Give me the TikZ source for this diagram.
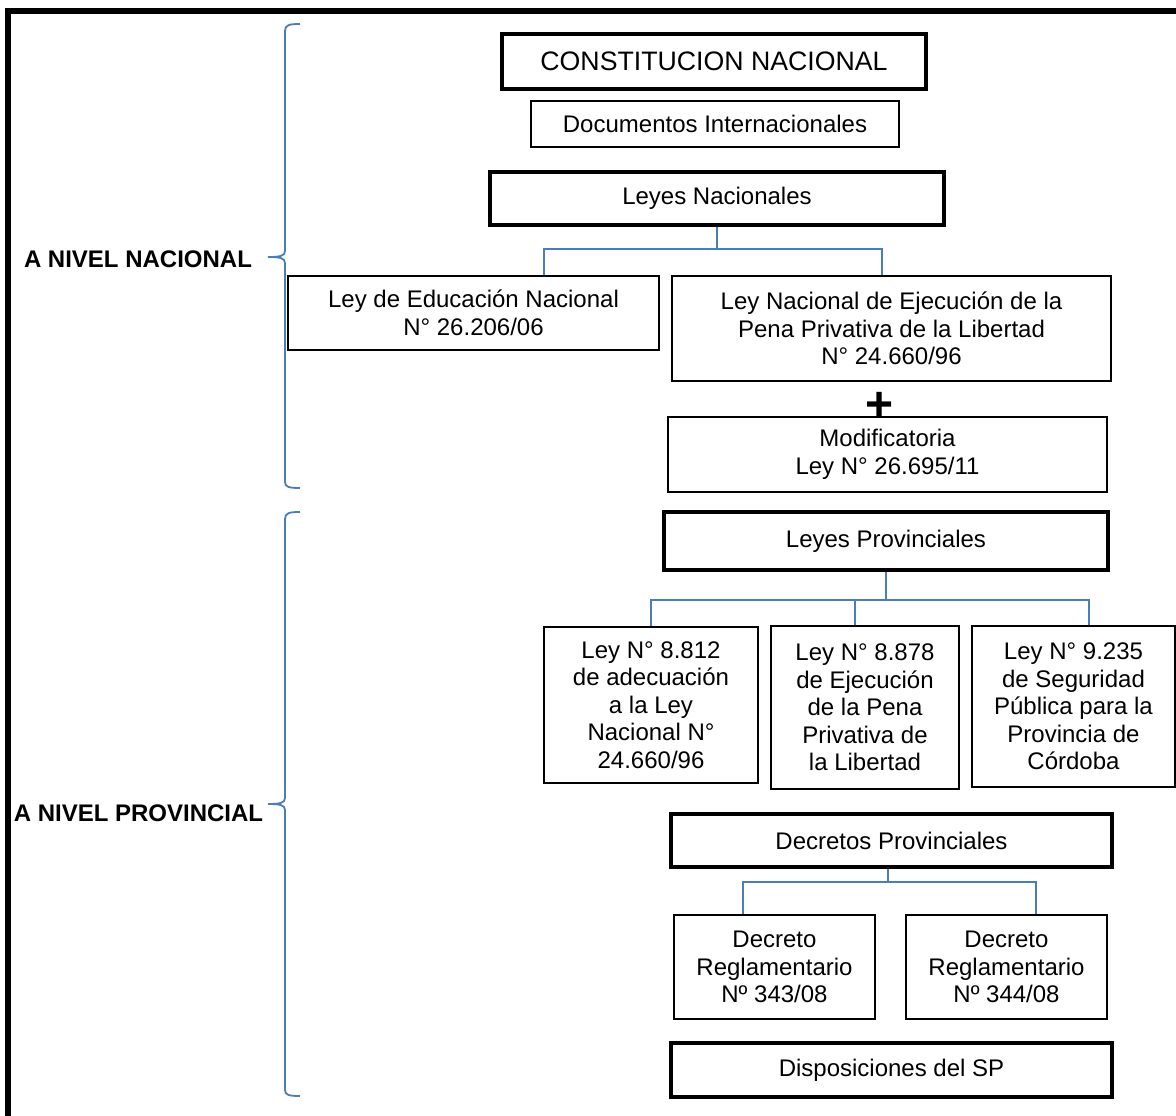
\documentclass[tikz,border=0pt]{standalone}
\usepackage{fontspec}
\setmainfont{Liberation Sans}
\definecolor{linkblue}{RGB}{74,126,187}

\begin{document}
\begin{tikzpicture}[x=1pt,y=-1pt,
 every node/.style={align=center,font=\fontsize{24}{27.5}\selectfont,inner sep=0pt},
 thinbox/.style={draw,line width=1.3pt},
 thickbox/.style={draw,line width=4.5pt},
 link/.style={draw=linkblue,line width=1.8pt},
 curly/.style={draw=linkblue,line width=1.8pt},
 level/.style={font=\fontsize{24}{27.5}\selectfont\bfseries}]
\clip (0,0) rectangle (1176,1116);
\draw[line width=6pt] (8,1140) |- (1190,11);
% nivel nacional
\node[thickbox,minimum width=424,minimum height=55,font=\fontsize{26.7}{30}\selectfont] (constitucion) at (714,61.5) {CONSTITUCION NACIONAL};
\node[thinbox,minimum width=368,minimum height=46] (documentos) at (715,124) {Documentos Internacionales};
\node[thickbox,minimum width=454,minimum height=53] (leyesnac) at (717,198.5) {Leyes Nacionales};
\node[thinbox,minimum width=371,minimum height=74] (educacion) at (473.5,313) {Ley de Educación Nacional\\N° 26.206/06};
\node[thinbox,minimum width=439,minimum height=105] (ejecucion) at (891.5,328.5) {Ley Nacional de Ejecución de la\\Pena Privativa de la Libertad\\N° 24.660/96};
\node[font=\fontsize{48}{48}\selectfont\bfseries] (mas) at (880,406) {+};
\node[thinbox,minimum width=439,minimum height=75] (modif) at (887.5,454.5) {Modificatoria\\Ley N° 26.695/11};
% nivel provincial
\node[thickbox,minimum width=444,minimum height=58] (leyesprov) at (886,541) {Leyes Provinciales};
\node[thinbox,minimum width=214,minimum height=156] (ley8812) at (651,705) {Ley N° 8.812\\de adecuación\\a la Ley\\Nacional N°\\24.660/96};
\node[thinbox,minimum width=188,minimum height=163] (ley8878) at (865,707.5) {Ley N° 8.878\\de Ejecución\\de la Pena\\Privativa de\\la Libertad};
\node[thinbox,minimum width=203,minimum height=161] (ley9235) at (1073.5,706.5) {Ley N° 9.235\\de Seguridad\\Pública para la\\Provincia de\\Córdoba};
\node[thickbox,minimum width=441,minimum height=53] (decretos) at (891.5,840.5) {Decretos Provinciales};
\node[thinbox,minimum width=201,minimum height=104] (dec343) at (774.5,967) {Decreto\\Reglamentario\\Nº 343/08};
\node[thinbox,minimum width=201,minimum height=104] (dec344) at (1006.5,967) {Decreto\\Reglamentario\\Nº 344/08};
\node[thickbox,minimum width=441,minimum height=54] (disposiciones) at (891.5,1070) {Disposiciones del SP};
% llaves y niveles
\node[level] (nacional) at (138,259) {A NIVEL NACIONAL};
\node[level] (provincial) at (138.5,813) {A NIVEL PROVINCIAL};
\draw[curly] (300,24) .. controls (289,24) and (285,25) .. (285,31) -- (285,251)
 .. controls (285,256) and (280,257) .. (268,257) .. controls (280,257) and (285,258) .. (285,263)
 -- (285,482) .. controls (285,487) and (289,488) .. (300,488);
\draw[curly] (300,512) .. controls (289,512) and (285,513) .. (285,519) -- (285,798)
 .. controls (285,803) and (280,804) .. (268,804) .. controls (280,804) and (285,805) .. (285,810)
 -- (285,1090) .. controls (285,1095) and (289,1096) .. (300,1096);
% conectores
\draw[link] (leyesnac.south) -- ++(0,22) -| ([xshift=70.5pt]educacion.north);
\draw[link] (leyesnac.south) -- ++(0,22) -| ([xshift=-9.5pt]ejecucion.north);
\draw[link] (leyesprov.south) -- ++(0,28) -| (ley8812.north);
\draw[link] (leyesprov.south) -- ++(0,28) -| ([xshift=-10pt]ley8878.north);
\draw[link] (leyesprov.south) -- ++(0,28) -| ([xshift=15.5pt]ley9235.north);
\draw[link] ([xshift=-3.5pt]decretos.south) -- ++(0,13) -| ([xshift=-31.5pt]dec343.north);
\draw[link] ([xshift=-3.5pt]decretos.south) -- ++(0,13) -| ([xshift=29.5pt]dec344.north);
\end{tikzpicture}
\end{document}
